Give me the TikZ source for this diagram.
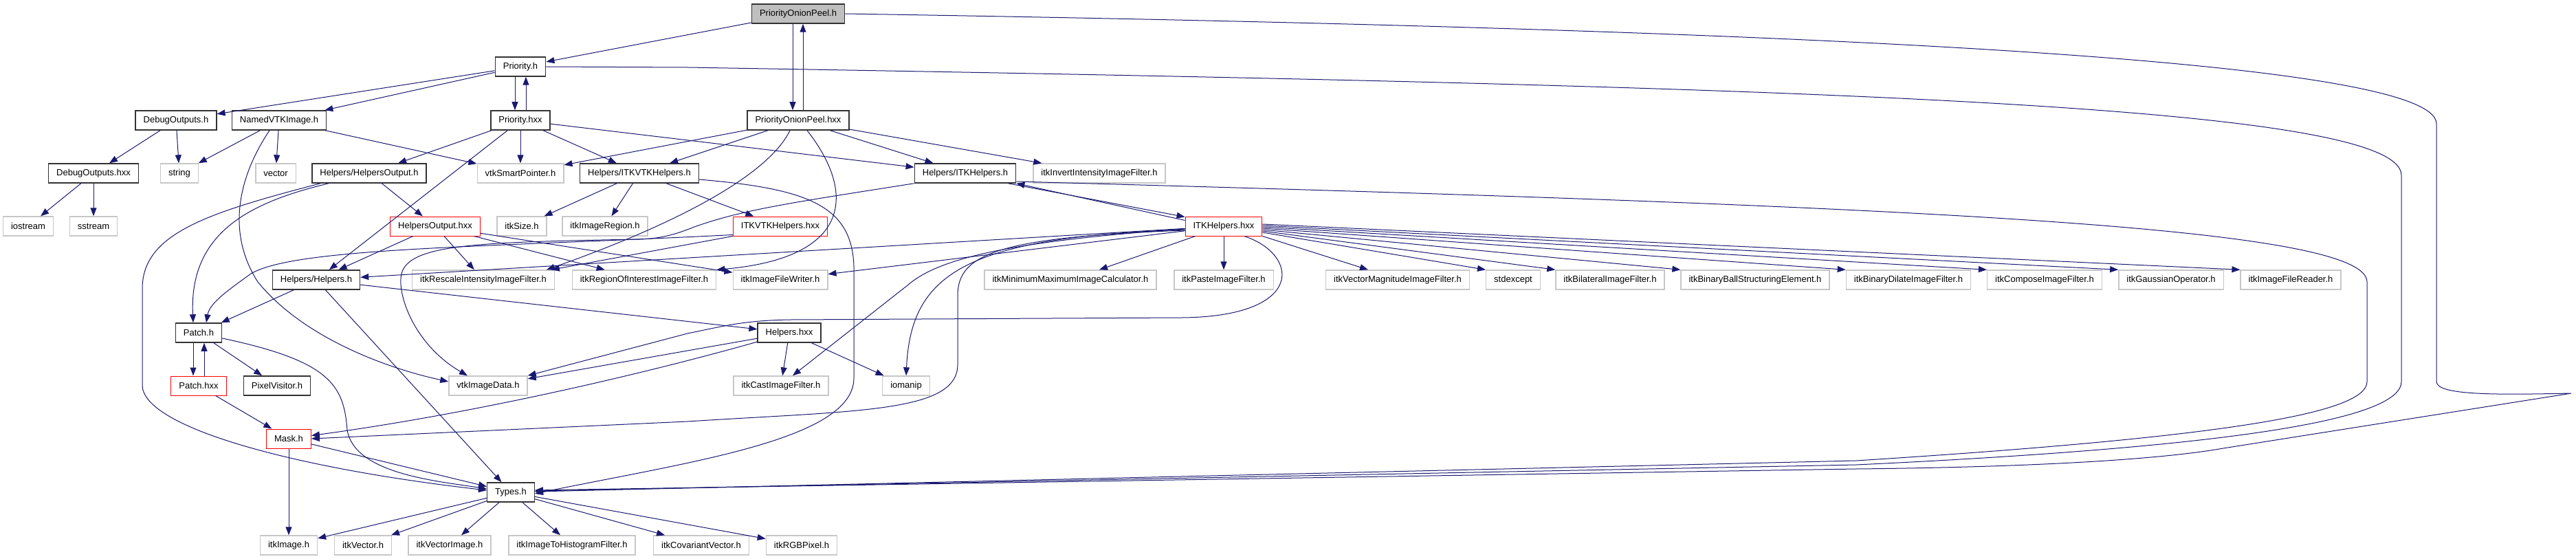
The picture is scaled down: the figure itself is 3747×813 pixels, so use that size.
\documentclass[tikz,border=0pt]{standalone}
\usepackage{fontspec}
\setmainfont{Liberation Sans}
\usepackage{xcolor}
\usetikzlibrary{arrows.meta}
\definecolor{midblue}{RGB}{25,25,112}

\begin{document}
\begin{tikzpicture}[x=1pt, y=-1pt,
  inc/.style={draw, minimum height=28pt, inner xsep=11.5pt, inner ysep=0pt,
              font=\fontsize{13}{15}\selectfont},
  hdr/.style={inc, draw=black!80, line width=1.5pt},
  mainf/.style={hdr, fill=black!25},
  cut/.style={inc, draw=red, line width=1pt},
  sys/.style={inc, draw=black!22, line width=1.4pt},
  ar/.style={-{Triangle[length=12pt,width=9pt]}, midblue, line width=1pt},
]
  \useasboundingbox (0,0) rectangle (3747,813);

  %% Rank 0-1: the file itself and its direct headers
  \node[mainf] (pop_h)    at (1161,20)  {PriorityOnionPeel.h};
  \node[hdr]   (prio_h)   at (757,97)   {Priority.h};

  %% Rank 2
  \node[hdr] (dbg_h)    at (256,175)  {DebugOutputs.h};
  \node[hdr] (named)    at (406,175)  {NamedVTKImage.h};
  \node[hdr] (prio_hxx) at (757,175)  {Priority.hxx};
  \node[hdr] (pop_hxx)  at (1161,175) {PriorityOnionPeel.hxx};

  %% Rank 3
  \node[hdr] (dbg_hxx)  at (136,252)  {DebugOutputs.hxx};
  \node[sys] (string)   at (261,252)  {string};
  \node[sys] (vector)   at (401,252)  {vector};
  \node[hdr] (hout_h)   at (537,252)  {Helpers/HelpersOutput.h};
  \node[sys] (vtksp)    at (757,252)  {vtkSmartPointer.h};
  \node[hdr] (itkvtk_h) at (930,252)  {Helpers/ITKVTKHelpers.h};
  \node[hdr] (itk_h)    at (1404,252) {Helpers/ITKHelpers.h};
  \node[sys] (invert)   at (1599,252) {itkInvertIntensityImageFilter.h};

  %% Rank 4
  \node[sys] (iostream)   at (41,329)   {iostream};
  \node[sys] (sstream)    at (136,329)  {sstream};
  \node[cut] (hout_hxx)   at (633,329)  {HelpersOutput.hxx};
  \node[sys] (size)       at (759,329)  {itkSize.h};
  \node[sys] (region)     at (880,329)  {itkImageRegion.h};
  \node[cut] (itkvtk_hxx) at (1135,329) {ITKVTKHelpers.hxx};
  \node[cut] (itk_hxx)    at (1780,329) {ITKHelpers.hxx};

  %% Rank 5
  \node[hdr] (helpers_h) at (460,407)  {Helpers/Helpers.h};
  \node[sys] (rescale)   at (703,407)  {itkRescaleIntensityImageFilter.h};
  \node[sys] (roi)       at (937,407)  {itkRegionOfInterestImageFilter.h};
  \node[sys] (writer)    at (1135,407) {itkImageFileWriter.h};
  \node[sys] (minmax)    at (1557,407) {itkMinimumMaximumImageCalculator.h};
  \node[sys] (paste)     at (1780,407) {itkPasteImageFilter.h};
  \node[sys] (vecmag)    at (2033,407) {itkVectorMagnitudeImageFilter.h};
  \node[sys] (stdexcept) at (2201,407) {stdexcept};
  \node[sys] (bilateral) at (2342,407) {itkBilateralImageFilter.h};
  \node[sys] (ball)      at (2553,407) {itkBinaryBallStructuringElement.h};
  \node[sys] (dilate)    at (2776,407) {itkBinaryDilateImageFilter.h};
  \node[sys] (compose)   at (2974,407) {itkComposeImageFilter.h};
  \node[sys] (gauss)     at (3158,407) {itkGaussianOperator.h};
  \node[sys] (reader)    at (3332,407) {itkImageFileReader.h};

  %% Rank 6-7
  \node[hdr] (patch_h)     at (289,484)  {Patch.h};
  \node[hdr] (helpers_hxx) at (1148,484) {Helpers.hxx};
  \node[cut] (patch_hxx)   at (289,561)  {Patch.hxx};
  \node[hdr] (pixvis)      at (403,561)  {PixelVisitor.h};
  \node[sys] (imgdata)     at (710,561)  {vtkImageData.h};
  \node[sys] (cast)        at (1136,561) {itkCastImageFilter.h};
  \node[sys] (iomanip)     at (1318,561) {iomanip};

  %% Rank 8-10
  \node[cut] (mask)      at (420,638)  {Mask.h};
  \node[hdr] (types)     at (743,716)  {Types.h};
  \node[sys] (itkimage)  at (420,793)  {itkImage.h};
  \node[sys] (itkvector) at (528,793)  {itkVector.h};
  \node[sys] (vecimage)  at (654,793)  {itkVectorImage.h};
  \node[sys] (histo)     at (832,793)  {itkImageToHistogramFilter.h};
  \node[sys] (covar)     at (1020,793) {itkCovariantVector.h};
  \node[sys] (rgb)       at (1166,793) {itkRGBPixel.h};

  %% Straight include edges
  \foreach \a/\b in {pop_h/prio_h, prio_h/dbg_h, prio_h/named,
                     dbg_h/dbg_hxx, dbg_h/string, dbg_hxx/iostream, dbg_hxx/sstream,
                     named/string, named/vector, named/vtksp,
                     prio_hxx/hout_h, prio_hxx/helpers_h, prio_hxx/vtksp,
                     prio_hxx/itkvtk_h, prio_hxx/itk_h,
                     pop_hxx/vtksp, pop_hxx/itkvtk_h, pop_hxx/itk_h, pop_hxx/invert,
                     hout_h/hout_hxx, hout_hxx/helpers_h, hout_hxx/rescale,
                     hout_hxx/roi, hout_hxx/writer,
                     itkvtk_h/size, itkvtk_h/region, itkvtk_h/itkvtk_hxx,
                     itk_hxx/helpers_h, itk_hxx/writer, itk_hxx/minmax, itk_hxx/paste,
                     helpers_h/patch_h, helpers_h/types, helpers_h/helpers_hxx,
                     helpers_hxx/cast, helpers_hxx/iomanip, helpers_hxx/imgdata,
                     patch_h/pixvis, patch_hxx/mask, mask/itkimage, mask/types,
                     types/itkimage, types/itkvector, types/vecimage,
                     types/histo, types/covar, types/rgb}
    \draw[ar] (\a) -- (\b);

  %% Header <-> implementation pairs
  \draw[ar] ([xshift=-8]pop_h.south) -- ([xshift=-8]pop_hxx.north);
  \draw[ar] ([xshift=7]pop_hxx.north) -- ([xshift=7]pop_h.south);
  \draw[ar] ([xshift=-8]prio_h.south) -- ([xshift=-8]prio_hxx.north);
  \draw[ar] ([xshift=8]prio_hxx.north) -- ([xshift=8]prio_h.south);
  \draw[ar] ([xshift=-8]patch_h.south) -- ([xshift=-8]patch_hxx.north);
  \draw[ar] ([xshift=8]patch_hxx.north) -- ([xshift=8]patch_h.south);
  \draw[ar] ([xshift=-12]itk_h.south east) -- ([yshift=-1]itk_hxx.north west);
  \draw[ar] ([yshift=-6]itk_hxx.north west) -- (itk_h.south east);

  %% ITKHelpers.hxx fan to the right
  \draw[ar] (itk_hxx.south east) -- ([xshift=-43]vecmag.north);
  \foreach \b/\d in {stdexcept/-9, bilateral/-7, ball/-5, dilate/-3,
                     compose/-1, gauss/1, reader/3}
    \draw[ar] ([yshift=\d]itk_hxx.east) -- (\b.north west);

  \draw[ar] (itkvtk_hxx.south west) -- ([xshift=-5]rescale.north east);
  \draw[ar] (helpers_hxx) .. controls (950,540) and (700,600) .. (mask);

  %% Curved edges
  \draw[ar] ([xshift=-12]pop_hxx.south) .. controls (1120,250) and (1000,320)
    .. ([xshift=-12]rescale.north east);
  \draw[ar] ([xshift=13]pop_hxx.south) .. controls (1245,280) and (1240,375)
    .. (roi.north east);
  \draw[ar] ([xshift=-14]named.south) .. controls (345,260) and (330,340) .. (375,410)
    .. controls (440,490) and (560,535) .. ([yshift=6]imgdata.west);
  \draw[ar] ([xshift=-59]hout_h.south) .. controls (360,295) and (275,340)
    .. ([xshift=-8]patch_h.north);
  \draw[ar] ([xshift=-71]hout_h.south) .. controls (300,310) and (207,340) .. (207,420)
    -- (207,560) .. controls (207,620) and (420,680) .. ([yshift=3]types.west);
  \draw[ar] ([yshift=-8]patch_h.east) .. controls (480,525) and (500,560) .. (505,625)
    .. controls (515,690) and (640,700) .. ([yshift=5]types.west);
  \draw[ar] ([yshift=2]itkvtk_hxx.south west) .. controls (700,360) and (430,360) .. (365,398)
    .. controls (335,420) and (305,440) .. ([xshift=11]patch_h.north);
  \draw[ar] (itk_h.south west) .. controls (1150,295) and (1080,305) .. (1010,330)
    .. controls (980,342) and (960,347) .. (930,348)
    .. controls (700,352) and (600,355) .. (585,395)
    .. controls (575,422) and (600,500) .. ([xshift=-30]imgdata.north);
  \draw[ar] ([yshift=-4]itk_hxx.west) .. controls (1450,352) and (1360,380) .. (1320,415)
    -- ([xshift=17]cast.north);
  \draw[ar] ([yshift=-5]itk_hxx.west) .. controls (1400,345) and (1325,400) .. (iomanip.north);
  \draw[ar] ([yshift=-6]itk_hxx.west) .. controls (1450,345) and (1393,370) .. (1393,430)
    -- (1393,530) .. controls (1393,600) and (1250,597) .. (1000,613) -- (mask.east);
  \draw[ar] ([xshift=30]itk_hxx.south) .. controls (1890,370) and (1900,460) .. (1720,462)
    -- (1150,465) .. controls (1080,466) and (1050,475) .. (1000,485)
    -- (imgdata.north east);
  \draw[ar] ([yshift=-9]itkvtk_h.east) .. controls (1180,275) and (1245,300) .. (1242,400)
    -- (1242,550) .. controls (1242,640) and (1000,672) .. ([yshift=-2]types.east);

  %% Long edges round the right side into Types.h
  \draw[ar] (pop_h.east) .. controls (2600,42) and (3544,85) .. (3544,180)
    -- (3544,555) .. controls (3544,576) and (3640,574) .. (3740,572)
    -- (3234,652) .. controls (3120,672) and (2900,680) .. (2700,682)
    -- ([yshift=3]types.east);
  \draw[ar] (prio_h.east) -- (1000,98) .. controls (2600,125) and (3493,150) .. (3493,255)
    -- (3493,555) .. controls (3493,610) and (3250,650) .. (2700,676)
    -- ([yshift=2]types.east);
  \draw[ar] ([yshift=-12]itk_h.east) .. controls (2800,300) and (3443,330) .. (3443,410)
    -- (3443,555) .. controls (3443,600) and (3250,635) .. (2700,670)
    -- ([yshift=1]types.east);
\end{tikzpicture}
\end{document}
